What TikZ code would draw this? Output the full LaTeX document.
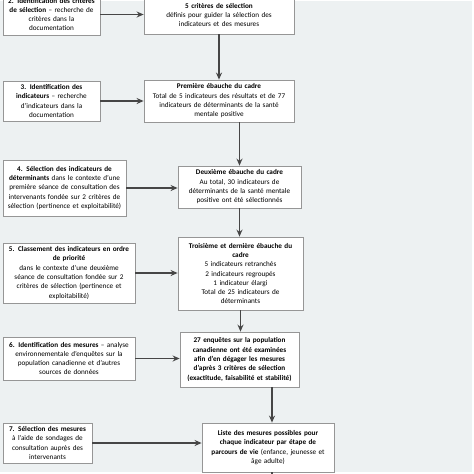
\documentclass[tikz,border=0pt]{standalone}
\usepackage{fontspec}
\setmainfont{Carlito}
\usetikzlibrary{arrows.meta}
\definecolor{bgpanel}{RGB}{237,241,242}
\definecolor{boxedge}{RGB}{150,150,150}
\definecolor{arrowgray}{RGB}{70,70,70}
\tikzset{
  stepbox/.style={draw=boxedge, fill=white, line width=0.8pt, align=center,
    inner xsep=2pt, inner ysep=2pt, font=\fontsize{7.2}{9.3}\selectfont},
  flow/.style={draw=arrowgray, line width=1.2pt, -{Stealth[length=7pt,width=6pt]}},
  flowline/.style={draw=arrowgray, line width=1.2pt},
}

\begin{document}
\begin{tikzpicture}[x=1pt,y=-1pt]
  \clip (0,0) rectangle (474,474);
  \fill[bgpanel] (0,1) rectangle (472,472);
  % steps (left column)
  \node[stepbox, text width=93pt, minimum height=41pt] (step2) at (51.5,14.5) {
    \textbf{2. Identification des critères}\\\textbf{de sélection} – recherche de\\critères dans la\\documentation};
  \node[stepbox, text width=93pt, minimum height=40pt] (step3) at (51.5,101) {
    \textbf{3. Identification des}\\\textbf{indicateurs} – recherche\\d'indicateurs dans la\\documentation};
  \node[stepbox, text width=119pt, minimum height=56pt] (step4) at (64.5,188) {
    \textbf{4. Sélection des indicateurs de}\\\textbf{déterminants} dans le contexte d'une\\première séance de consultation des\\intervenants fondée sur 2 critères de\\sélection (pertinence et exploitabilité)};
  \node[stepbox, text width=128pt, minimum height=60pt] (step5) at (69,273) {
    \textbf{5. Classement des indicateurs en ordre}\\\textbf{de priorité}\\dans le contexte d'une deuxième\\séance de consultation fondée sur 2\\critères de sélection (pertinence et\\exploitabilité)};
  \node[stepbox, text width=128pt, minimum height=43pt] (step6) at (69,358.5) {
    \textbf{6. Identification des mesures} – analyse\\environnementale d'enquêtes sur la\\population canadienne et d'autres\\sources de données};
  \node[stepbox, text width=85pt, minimum height=40pt] (step7) at (47.5,443) {
    \textbf{7. Sélection des mesures}\\à l'aide de sondages de\\consultation auprès des\\intervenants};
  % results (right column)
  \node[stepbox, text width=146pt, minimum height=38pt] (crit) at (219,15) {
    \textbf{5 critères de sélection}\\définis pour guider la sélection des\\indicateurs et des mesures};
  \node[stepbox, text width=146pt, minimum height=42pt] (draft1) at (219,101) {
    \textbf{Première ébauche du cadre}\\Total de 5 indicateurs des résultats et de 77\\indicateurs de déterminants de la santé\\mentale positive};
  \node[stepbox, text width=119pt, minimum height=42pt] (draft2) at (239.5,187) {
    \textbf{Deuxième ébauche du cadre}\\Au total, 30 indicateurs de\\déterminants de la santé mentale\\positive ont été sélectionnés};
  \node[stepbox, text width=121pt, minimum height=73pt] (draft3) at (240.5,273.5) {
    \textbf{Troisième et dernière ébauche du}\\\textbf{cadre}\\5 indicateurs retranchés\\2 indicateurs regroupés\\1 indicateur élargi\\Total de 25 indicateurs de\\déterminants};
  \node[stepbox, text width=115pt, minimum height=55pt] (surveys) at (239.5,359.5) {
    \textbf{27 enquêtes sur la population}\\\textbf{canadienne ont été examinées}\\\textbf{afin d'en dégager les mesures}\\\textbf{d'après 3 critères de sélection}\\\textbf{(exactitude, faisabilité et stabilité)}};
  \node[stepbox, text width=128pt, minimum height=49pt] (measures) at (268,447.5) {
    \textbf{Liste des mesures possibles pour}\\\textbf{chaque indicateur par étape de}\\\textbf{parcours de vie} (enfance, jeunesse et\\âge adulte)};
  \coordinate (tail) at (272,480);
  % connectors
  \draw[flow] (step2.east) -- (step2.east -| crit.west);
  \draw[flow] (step3.east) -- (step3.east -| draft1.west);
  \draw[flow] (step4.east) -- (step4.east -| draft2.west);
  \draw[flow] (step5.east) -- (step5.east -| draft3.west);
  \draw[flow] (step6.east) -- (step6.east -| surveys.west);
  \draw[flow] (step7.east) -- (step7.east -| measures.west);
  \draw[flow] (crit.south) -- (draft1.north);
  \draw[flow] (draft1.south -| draft2.north) -- (draft2.north);
  \draw[flow] (draft2.south) -- (draft2.south |- draft3.north);
  \draw[flow] (draft3.south) -- (draft3.south |- surveys.north);
  \draw[flow] (surveys.south -| tail) -- (measures.north -| tail);
  \draw[flowline] (measures.south -| tail) -- (tail);
\end{tikzpicture}
\end{document}
